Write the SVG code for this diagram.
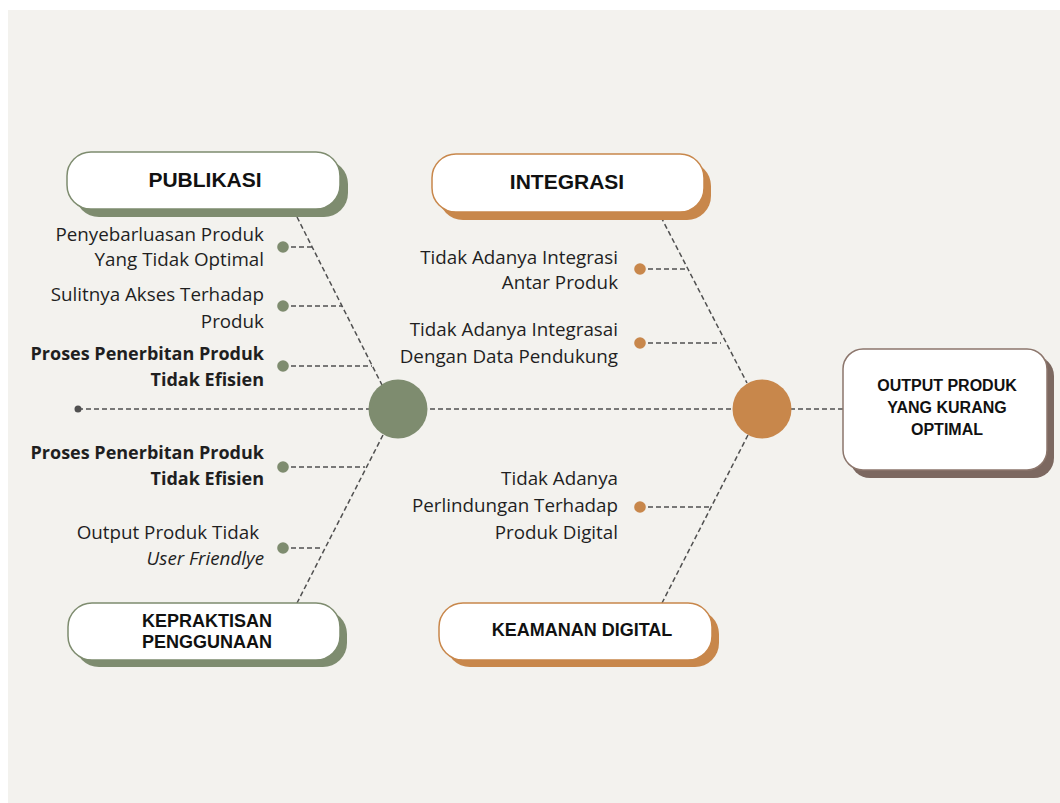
<svg xmlns="http://www.w3.org/2000/svg" width="1060" height="803" viewBox="0 0 1060 803">
<style>
.lbl{font-family:"Open Sans","Liberation Sans",sans-serif;font-size:18.8px;fill:#1f1f1f;text-anchor:end}
.b{font-weight:700;font-size:18px}
.it{font-style:italic}
.hd{font-family:"Liberation Sans",Arial,sans-serif;font-weight:700;fill:#111;text-anchor:middle}
.dash{fill:none;stroke:#505050;stroke-width:1.5;stroke-dasharray:5 3}
.box{fill:#fff;stroke-width:1.5}
.g{fill:#7e8c6f}
.o{fill:#c8874b}
.gs{stroke:#7e8c6f}
.os{stroke:#c8874b}
</style>
<rect x="0" y="0" width="1060" height="803" fill="#fff"/>
<rect x="8" y="10" width="1052" height="793" fill="#f3f2ee"/>

<g id="connectors">
  <line class="dash" x1="78" y1="409" x2="843" y2="409"/>
  <line class="dash" x1="297" y1="217" x2="383" y2="387"/>
  <line class="dash" x1="383" y1="435" x2="297" y2="603"/>
  <line class="dash" x1="661" y1="217" x2="747" y2="383"/>
  <line class="dash" x1="748" y1="435" x2="662" y2="603"/>
  <line class="dash" x1="283" y1="247" x2="312" y2="247"/>
  <line class="dash" x1="283" y1="306" x2="342" y2="306"/>
  <line class="dash" x1="283" y1="366" x2="372" y2="366"/>
  <line class="dash" x1="283" y1="467" x2="365" y2="467"/>
  <line class="dash" x1="283" y1="548" x2="323" y2="548"/>
  <line class="dash" x1="640" y1="269" x2="688" y2="269"/>
  <line class="dash" x1="640" y1="343" x2="721" y2="343"/>
  <line class="dash" x1="640" y1="507" x2="711" y2="507"/>
  <circle cx="78" cy="409" r="3.5" fill="#505050"/>
</g>

<g id="spine-green"><circle class="g" cx="398" cy="409" r="29.5"/></g>
<g id="spine-orange"><circle class="o" cx="762" cy="409" r="29.5"/></g>

<g id="publikasi">
  <rect class="g" x="75" y="160" width="273" height="57" rx="24"/>
  <rect class="box gs" x="67" y="152" width="273" height="57" rx="24"/>
  <text class="hd" x="205" y="187" font-size="21">PUBLIKASI</text>
</g>
<g id="integrasi">
  <rect class="o" x="439" y="162" width="272" height="58" rx="24"/>
  <rect class="box os" x="432" y="154" width="272" height="58" rx="24"/>
  <text class="hd" x="567" y="189" font-size="21">INTEGRASI</text>
</g>
<g id="kepraktisan">
  <rect class="g" x="75" y="610" width="272" height="57" rx="24"/>
  <rect class="box gs" x="68" y="603" width="272" height="57" rx="24"/>
  <text class="hd" x="207" y="627" font-size="18">KEPRAKTISAN</text>
  <text class="hd" x="207" y="648" font-size="18">PENGGUNAAN</text>
</g>
<g id="keamanan">
  <rect class="o" x="446" y="610" width="273" height="57" rx="24"/>
  <rect class="box os" x="439" y="603" width="273" height="57" rx="24"/>
  <text class="hd" x="582" y="636" font-size="18">KEAMANAN DIGITAL</text>
</g>
<g id="output">
  <rect x="850" y="356" width="204" height="122" rx="20" fill="#7c6860"/>
  <rect class="box" stroke="#8c766c" x="843" y="349" width="204" height="121" rx="20"/>
  <text class="hd" x="947" y="391" font-size="16">OUTPUT PRODUK</text>
  <text class="hd" x="947" y="413" font-size="16">YANG KURANG</text>
  <text class="hd" x="947" y="435" font-size="16">OPTIMAL</text>
</g>

<g id="cause-1">
  <circle class="g" cx="283" cy="247" r="5.8"/>
  <text class="lbl" x="264" y="241">Penyebarluasan Produk</text>
  <text class="lbl" x="264" y="266">Yang Tidak Optimal</text>
</g>
<g id="cause-2">
  <circle class="g" cx="283" cy="306" r="5.8"/>
  <text class="lbl" x="264" y="301">Sulitnya Akses Terhadap</text>
  <text class="lbl" x="264" y="328">Produk</text>
</g>
<g id="cause-3">
  <circle class="g" cx="283" cy="366" r="5.8"/>
  <text class="lbl b" x="264" y="360">Proses Penerbitan Produk</text>
  <text class="lbl b" x="264" y="386">Tidak Efisien</text>
</g>
<g id="cause-4">
  <circle class="g" cx="283" cy="467" r="5.8"/>
  <text class="lbl b" x="264" y="459">Proses Penerbitan Produk</text>
  <text class="lbl b" x="264" y="485">Tidak Efisien</text>
</g>
<g id="cause-5">
  <circle class="g" cx="283" cy="548" r="5.8"/>
  <text class="lbl" x="259" y="539">Output Produk Tidak</text>
  <text class="lbl it" x="264" y="565">User Friendlye</text>
</g>
<g id="cause-6">
  <circle class="o" cx="640" cy="269" r="5.8"/>
  <text class="lbl" x="618" y="264">Tidak Adanya Integrasi</text>
  <text class="lbl" x="618" y="289">Antar Produk</text>
</g>
<g id="cause-7">
  <circle class="o" cx="640" cy="343" r="5.8"/>
  <text class="lbl" x="618" y="336">Tidak Adanya Integrasai</text>
  <text class="lbl" x="618" y="363">Dengan Data Pendukung</text>
</g>
<g id="cause-8">
  <circle class="o" cx="640" cy="507" r="5.8"/>
  <text class="lbl" x="618" y="485">Tidak Adanya</text>
  <text class="lbl" x="618" y="512">Perlindungan Terhadap</text>
  <text class="lbl" x="618" y="539">Produk Digital</text>
</g>
</svg>
